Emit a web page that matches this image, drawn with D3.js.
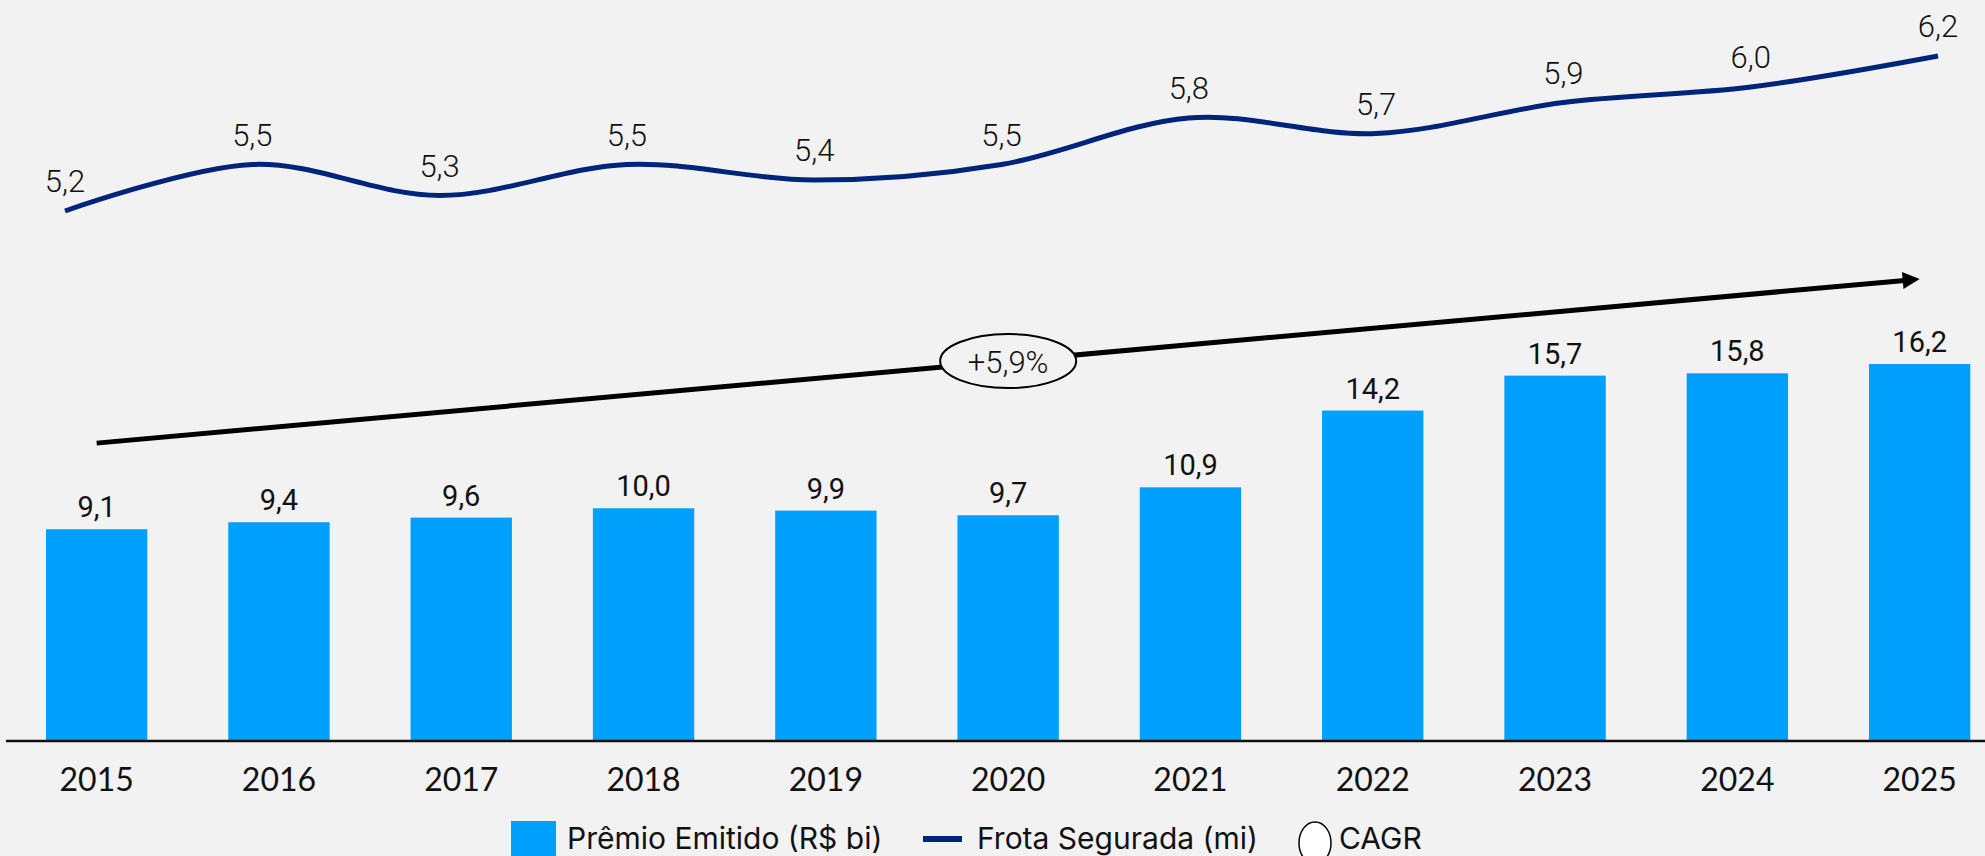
<!DOCTYPE html>
<html>
<head>
<meta charset="utf-8">
<script src="https://cdn.jsdelivr.net/npm/d3@7"></script>
<style>
  html, body { margin: 0; padding: 0; background: #f2f2f2; }
  svg { display: block; }
</style>
</head>
<body>
<div id="chart"></div>
<script>
// data
const years = ["2015", "2016", "2017", "2018", "2019", "2020", "2021", "2022", "2023", "2024", "2025"];
const premio = [9.1, 9.4, 9.6, 10.0, 9.9, 9.7, 10.9, 14.2, 15.7, 15.8, 16.2];
const frota = [5.2, 5.5, 5.3, 5.5, 5.4, 5.5, 5.8, 5.7, 5.9, 6.0, 6.2];
const cagrText = "+5,9%";
const cagrEnds = [12.8, 19.85]; // arrow height at 2015 / 2025, in bar units
const legendLabels = ["Prêmio Emitido (R$ bi)", "Frota Segurada (mi)", "CAGR"];

let drawChart = (locationId) => {
  const width = 1985;
  const height = 856;
  const barColor = "#00a0fc";
  const lineColor = "#00247a";

  const svg = d3.select(locationId)
    .append("svg")
    .attr("width", width)
    .attr("height", height);

  const ptBR = d3.formatLocale({ decimal: ",", thousands: ".", grouping: [3], currency: ["R$", ""] });
  const fmt = ptBR.format(".1f");

  // scales
  const xBar = d3.scaleBand().domain(years).range([5.5, 2010.8]).paddingInner(0.444).paddingOuter(0.222);
  const yBar = d3.scaleLinear().domain([0, 16.2]).range([741, 364]);
  const xLine = d3.scalePoint().domain(years).range([65, 1938]);
  const yLine = d3.scaleLinear().domain([5.2, 6.2]).range([211, 56]);

  // bars
  svg.append("g")
    .selectAll("rect")
    .data(premio)
    .join("rect")
    .attr("x", (d, i) => xBar(years[i]))
    .attr("y", (d) => yBar(d))
    .attr("width", xBar.bandwidth())
    .attr("height", (d) => yBar(0) - yBar(d))
    .attr("fill", barColor);

  // bar value labels
  svg.append("g")
    .selectAll("text")
    .data(premio)
    .join("text")
    .attr("x", (d, i) => xBar(years[i]) + xBar.bandwidth() / 2)
    .attr("y", (d) => yBar(d) - 12)
    .attr("text-anchor", "middle")
    .attr("font-family", "Roboto, 'Liberation Sans', sans-serif")
    .attr("font-weight", 400)
    .attr("font-size", 29)
    .attr("fill", "#111")
    .text((d) => fmt(d));

  // baseline axis
  const xAxis = svg.append("g")
    .attr("transform", `translate(0,${yBar(0)})`)
    .call(d3.axisBottom(xBar).tickSize(0).tickPadding(27));
  xAxis.select(".domain").remove();
  xAxis.append("line")
    .attr("x1", 6).attr("x2", width)
    .attr("stroke", "#111").attr("stroke-width", 2.5);
  xAxis.selectAll(".tick text")
    .attr("font-family", "Lato, 'Open Sans', sans-serif")
    .attr("font-size", 32)
    .attr("fill", "#111");

  // Frota line, smoothed like the office chart
  const line = d3.line()
    .x((d, i) => xLine(years[i]))
    .y((d) => yLine(d))
    .curve(d3.curveCardinal.tension(0));

  svg.append("path")
    .datum(frota)
    .attr("fill", "none")
    .attr("stroke", lineColor)
    .attr("stroke-width", 5)
    .attr("d", line);

  svg.append("g")
    .selectAll("text")
    .data(frota)
    .join("text")
    .attr("x", (d, i) => xLine(years[i]))
    .attr("y", (d) => yLine(d) - 19)
    .attr("text-anchor", "middle")
    .attr("font-family", "Roboto, 'Liberation Sans', sans-serif")
    .attr("font-weight", 300)
    .attr("font-size", 31)
    .attr("fill", "#111")
    .text((d) => fmt(d));

  // CAGR arrow
  const cx0 = xBar(years[0]) + xBar.bandwidth() / 2;
  const cx1 = xBar(years[years.length - 1]) + xBar.bandwidth() / 2;
  const cy0 = yBar(cagrEnds[0]);
  const cy1 = yBar(cagrEnds[1]);
  const ang = Math.atan2(cy1 - cy0, cx1 - cx0);
  const headLen = 17, headHalf = 8.5;

  svg.append("line")
    .attr("x1", cx0).attr("y1", cy0)
    .attr("x2", cx1 - Math.cos(ang) * (headLen - 2))
    .attr("y2", cy1 - Math.sin(ang) * (headLen - 2))
    .attr("stroke", "#000")
    .attr("stroke-width", 5);

  const bx = cx1 - Math.cos(ang) * headLen;
  const by = cy1 - Math.sin(ang) * headLen;
  svg.append("polygon")
    .attr("points", [
      [cx1, cy1],
      [bx + Math.sin(ang) * headHalf, by - Math.cos(ang) * headHalf],
      [bx - Math.sin(ang) * headHalf, by + Math.cos(ang) * headHalf]
    ].map((p) => p.join(",")).join(" "))
    .attr("fill", "#000");

  // CAGR bubble sits on the arrow at 2020
  const midX = xBar("2020") + xBar.bandwidth() / 2;
  const midY = cy0 + (cy1 - cy0) * (midX - cx0) / (cx1 - cx0);
  svg.append("ellipse")
    .attr("cx", midX).attr("cy", midY)
    .attr("rx", 68).attr("ry", 27)
    .attr("fill", "#f2f2f2")
    .attr("stroke", "#000")
    .attr("stroke-width", 2);
  svg.append("text")
    .attr("x", midX).attr("y", midY + 12)
    .attr("text-anchor", "middle")
    .attr("font-family", "Roboto, 'Liberation Sans', sans-serif")
    .attr("font-weight", 300)
    .attr("font-size", 31)
    .attr("fill", "#111")
    .text(cagrText);

  // legend
  const legend = svg.append("g")
    .attr("font-family", "Inter, 'Noto Sans', sans-serif")
    .attr("font-size", 30)
    .attr("fill", "#111");

  legend.append("rect")
    .attr("x", 511).attr("y", 821)
    .attr("width", 45).attr("height", 45)
    .attr("fill", barColor);
  legend.append("text").attr("x", 567).attr("y", 849).text(legendLabels[0]);

  legend.append("line")
    .attr("x1", 923).attr("x2", 962)
    .attr("y1", 839).attr("y2", 839)
    .attr("stroke", lineColor).attr("stroke-width", 6);
  legend.append("text").attr("x", 977).attr("y", 849).text(legendLabels[1]);

  legend.append("ellipse")
    .attr("cx", 1315).attr("cy", 843)
    .attr("rx", 16).attr("ry", 21)
    .attr("fill", "#fff")
    .attr("stroke", "#000")
    .attr("stroke-width", 1.5);
  legend.append("text").attr("x", 1339).attr("y", 849).text(legendLabels[2]);
};

drawChart("#chart");
</script>
</body>
</html>
